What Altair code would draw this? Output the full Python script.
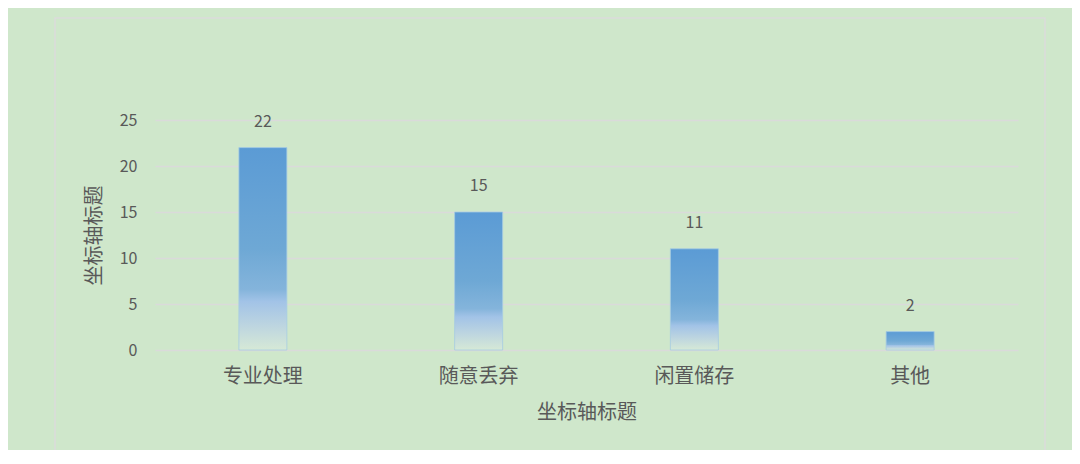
import altair as alt
import pandas as pd

categories = ["专业处理", "随意丢弃", "闲置储存", "其他"]
values = [22, 15, 11, 2]
y_ticks = [0, 5, 10, 15, 20, 25]
axis_title = "坐标轴标题"

df = pd.DataFrame({"cat": categories, "val": values})

FONT = "Noto Sans CJK SC"
TXT = "#595959"
BG = "#cfe7cb"

grad = alt.Gradient(
    gradient="linear", x1=0, x2=0, y1=0, y2=1,
    stops=[
        alt.GradientStop(color="#5b9bd5", offset=0),
        alt.GradientStop(color="#6ea8d5", offset=0.5),
        alt.GradientStop(color="#84b4db", offset=0.7),
        alt.GradientStop(color="#a2c3e7", offset=0.76),
        alt.GradientStop(color="#bdd5e0", offset=0.88),
        alt.GradientStop(color="#d6e9d6", offset=1),
    ],
)

base = alt.Chart(df)

x_enc = alt.X(
    "cat:N", sort=categories, title=axis_title,
    scale=alt.Scale(paddingInner=0, paddingOuter=0),
    axis=alt.Axis(labelAngle=0, ticks=False, domain=False, labelPadding=16,
                  labelFontSize=20, labelColor=TXT, labelFont=FONT,
                  titleFontSize=20, titleColor=TXT, titleFont=FONT, titleFontWeight="normal",
                  titleY=62, titleBaseline="middle"),
)
y_enc = alt.Y(
    "val:Q", title=axis_title,
    scale=alt.Scale(domain=[0, 25], nice=False),
    axis=alt.Axis(values=y_ticks, ticks=False, domain=False, labelPadding=18,
                  labelFontSize=16, labelColor=TXT, labelFont=FONT,
                  gridColor="#dadada", gridWidth=1.5,
                  titleFontSize=20, titleColor=TXT, titleFont=FONT, titleFontWeight="normal",
                  titleAngle=-90, titleX=-61, titleY=115, titleAlign="center",
                  titleBaseline="middle"),
)

bars = base.mark_bar(size=48, color=grad, stroke="#a6cbe2", strokeWidth=0.8).encode(x=x_enc, y=y_enc)

labels = base.mark_text(dy=-26, baseline="middle", fontSize=16, color=TXT, font=FONT).encode(
    x=alt.X("cat:N", sort=categories), y=alt.Y("val:Q"), text="val:Q"
)

frame = alt.Chart(pd.DataFrame({"k": [0]})).mark_rect(
    fill=None, stroke="#dcdcdc", strokeWidth=1.5
).encode(
    x=alt.value(-100), x2=alt.value(890), y=alt.value(-102), y2=alt.value(340)
)

chart = alt.layer(frame, bars, labels).properties(
    width=863, height=230,
    autosize=alt.AutoSizeParams(type="none"),
    padding={"left": 147, "top": 112, "right": 54, "bottom": 100},
    background=BG,
).configure_view(stroke=None)

chart.save("out.html", embed_options={"renderer": "svg", "actions": False})
